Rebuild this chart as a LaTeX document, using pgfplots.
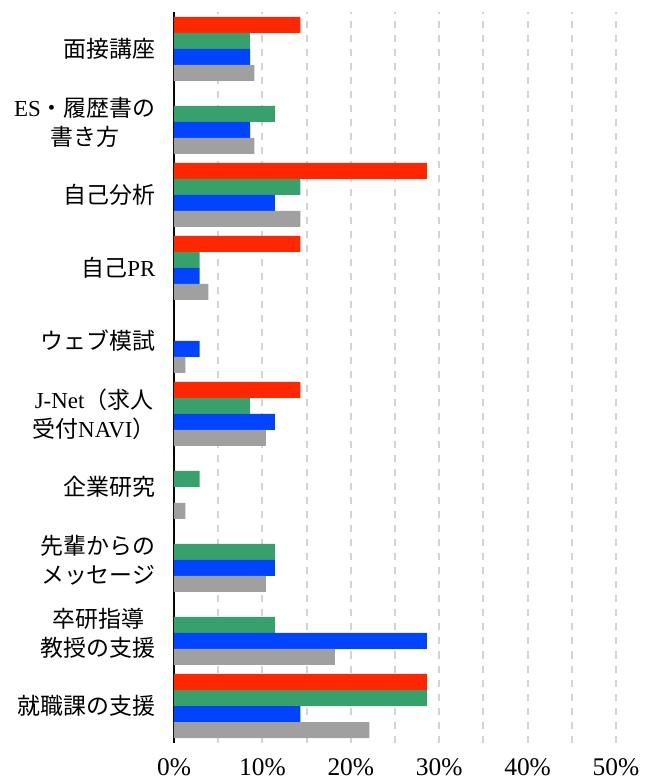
\documentclass[border=0pt]{standalone}
\usepackage{fontspec}
\setmainfont{Liberation Serif}
\newfontfamily\cjk{Noto Sans CJK JP}
\usepackage{pgfplots}
\pgfplotsset{compat=1.18}
\definecolor{cred}{RGB}{255,38,0}
\definecolor{cgreen}{RGB}{56,161,107}
\definecolor{cblue}{RGB}{0,68,255}
\definecolor{cgray}{RGB}{160,160,160}
\definecolor{cgrid}{RGB}{212,212,212}
\begin{document}
\begin{tikzpicture}
\begin{axis}[
  scale only axis, width=442bp, height=730bp,
  xbar, bar width=16bp,
  xmin=0, xmax=0.5, ymin=-0.5, ymax=9.5,
  xtick={0,0.1,0.2,0.3,0.4,0.5},
  xticklabels={0\%,10\%,20\%,30\%,40\%,50\%},
  minor xtick={0.05,0.15,0.25,0.35,0.45},
  xmajorgrids, xminorgrids,
  major grid style={cgrid, line width=2bp, dash pattern=on 7bp off 7bp},
  minor grid style={cgrid, line width=2bp, dash pattern=on 7bp off 7bp},
  ytick={0,1,2,3,4,5,6,7,8,9},
  yticklabels={
    {\cjk 就職課の支援},
    {\cjk 卒研指導\\\cjk 教授の支援},
    {\cjk 先輩からの\\\cjk メッセージ},
    {\cjk 企業研究},
    {J-Net{\cjk （求人}\\{\cjk 受付}NAVI{\cjk ）}},
    {\cjk ウェブ模試},
    {{\cjk 自己}PR},
    {\cjk 自己分析},
    {ES{\cjk ・履歴書の}\\{\cjk 書き方}},
    {\cjk 面接講座}},
  major tick length=0, minor tick length=0,
  axis lines*=left,
  x axis line style={draw=none},
  y axis line style={black, line width=1.5bp},
  xticklabel style={font=\fontsize{25.5}{28}\selectfont, yshift=-13bp},
  yticklabel style={font=\fontsize{23}{29}\selectfont, align=center, xshift=-15bp},
  every axis plot/.append style={draw=none},
]
\addplot[fill=cred, bar shift=24bp] coordinates {
  (0.143,9) (0,8) (0.286,7) (0.143,6) (0,5) (0.143,4) (0,3) (0,2) (0,1) (0.286,0)};
\addplot[fill=cgreen, bar shift=8bp] coordinates {
  (0.086,9) (0.114,8) (0.143,7) (0.029,6) (0,5) (0.086,4) (0.029,3) (0.114,2) (0.114,1) (0.286,0)};
\addplot[fill=cblue, bar shift=-8bp] coordinates {
  (0.086,9) (0.086,8) (0.114,7) (0.029,6) (0.029,5) (0.114,4) (0,3) (0.114,2) (0.286,1) (0.143,0)};
\addplot[fill=cgray, bar shift=-24bp] coordinates {
  (0.091,9) (0.091,8) (0.143,7) (0.039,6) (0.013,5) (0.104,4) (0.013,3) (0.104,2) (0.182,1) (0.221,0)};
\end{axis}
\pgfresetboundingbox
\path (-174bp,-40.5bp) rectangle (472bp,742.5bp);
\end{tikzpicture}
\end{document}
